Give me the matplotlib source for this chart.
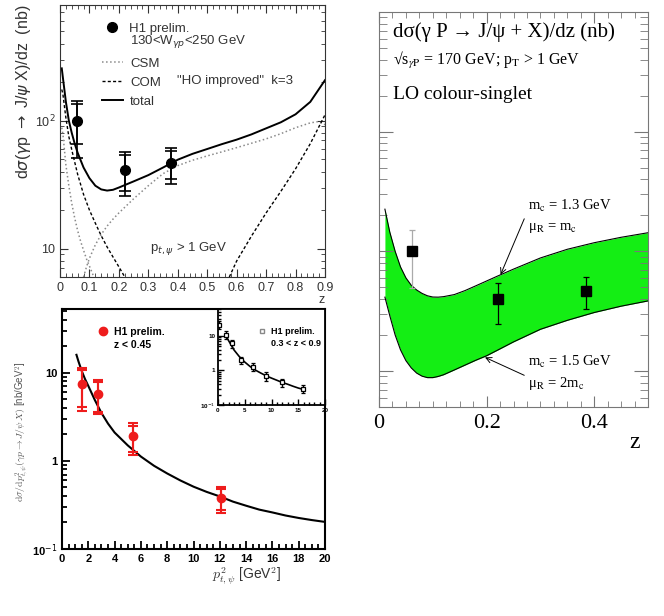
import matplotlib
matplotlib.use("Agg")
import matplotlib.pyplot as plt
import numpy as np
from matplotlib.lines import Line2D
from matplotlib.font_manager import FontProperties
from matplotlib.ticker import (MultipleLocator, LogLocator, NullFormatter,
                               FixedLocator, FixedFormatter, FormatStrFormatter)

# ---------------- top left: dsigma/dz, CSM + COM ----------------
z_h1 = [0.057, 0.222, 0.376]
sig_h1 = [100.0, 41.3, 46.6]
stat_lo = [66.0, 28.0, 35.0]
stat_hi = [136.0, 54.1, 57.4]
tot_lo = [51.0, 25.9, 32.1]
tot_hi = [141.0, 56.4, 61.0]

z_total = [0.006, 0.01, 0.02, 0.03, 0.04, 0.05, 0.06, 0.08, 0.10, 0.12, 0.14,
           0.16, 0.18, 0.20, 0.25, 0.30, 0.35, 0.40, 0.45, 0.50, 0.55, 0.60,
           0.65, 0.70, 0.75, 0.80, 0.85, 0.90]
total = [256, 215, 140, 100, 80, 66, 56, 43, 35.5, 31, 29, 28.4, 28.8, 30,
         33.5, 37.5, 43, 49.5, 55, 60, 65.5, 71, 78, 87, 97, 112, 140, 207]

z_csm_res = [0.006, 0.01, 0.02, 0.03, 0.04, 0.05, 0.06, 0.07, 0.08, 0.09,
             0.10, 0.11, 0.115]
csm_res = [88, 78, 45, 31, 22.5, 17.3, 13.8, 11.4, 9.7, 8.3, 7.3, 6.4, 6.0]

z_csm_dir = [0.08, 0.09, 0.10, 0.12, 0.14, 0.16, 0.18, 0.20, 0.25, 0.30, 0.35,
             0.40, 0.45, 0.50, 0.55, 0.60, 0.65, 0.70, 0.75, 0.80, 0.85,
             0.875, 0.90]
csm_dir = [6.0, 7.2, 8.4, 10.7, 12.9, 15.0, 17.0, 19.0, 24.5, 31, 38.5, 44.5,
           49, 53, 57, 61.5, 66.5, 72, 79, 88, 96, 98, 93]

z_com_res = [0.006, 0.01, 0.02, 0.03, 0.04, 0.06, 0.08, 0.10, 0.12, 0.14,
             0.16, 0.18, 0.20, 0.22]
com_res = [175, 160, 105, 75, 59, 38, 26.5, 20, 15.8, 12.6, 10.3, 8.6, 7.2, 6.0]

z_com_dir = [0.575, 0.60, 0.65, 0.70, 0.75, 0.80, 0.85, 0.90]
com_dir = [6.0, 8.0, 12.5, 19, 28, 42, 66, 111]

# ---------------- bottom left: dsigma/dpt2 ----------------
pt2_h1 = [1.5, 2.7, 5.4, 12.1]
dpt_h1 = [7.4, 5.8, 1.92, 0.384]
dpt_stat_lo = [4.05, 3.6, 1.26, 0.28]
dpt_stat_hi = [10.7, 7.9, 2.5, 0.476]
dpt_tot_lo = [3.7, 3.4, 1.18, 0.256]
dpt_tot_hi = [11.2, 8.3, 2.66, 0.507]

pt2_curve = [1.1, 1.25, 1.5, 1.75, 2.0, 2.5, 3.0, 3.5, 4, 5, 6, 7, 8, 9, 10,
             11, 12, 13, 14, 15, 16, 17, 18, 19, 20]
dpt_curve = [16, 13.5, 10.5, 8.5, 7.1, 4.9, 3.5, 2.65, 2.1, 1.5, 1.12, 0.88,
             0.72, 0.6, 0.51, 0.445, 0.395, 0.345, 0.31, 0.28, 0.26, 0.24,
             0.225, 0.213, 0.203]

# inset, 0.3 < z < 0.9
pt2_in = [0.25, 1.44, 2.68, 4.3, 6.6, 8.9, 12.0, 15.9]
dpt_in = [21, 10.7, 6.1, 2.0, 1.26, 0.67, 0.45, 0.29]
dpt_in_lo = [16, 8.0, 4.6, 1.5, 0.95, 0.5, 0.33, 0.22]
dpt_in_hi = [27, 13.5, 7.8, 2.5, 1.6, 0.88, 0.58, 0.37]
pt2_in_curve = [1.5, 2, 3, 4, 5, 6, 7, 8, 9, 10, 11, 12, 13, 14, 15, 16]
dpt_in_curve = [10, 7.2, 3.9, 2.5, 1.75, 1.3, 1.02, 0.84, 0.7, 0.6, 0.52,
                0.45, 0.4, 0.35, 0.31, 0.28]

# ---------------- right: LO colour-singlet band ----------------
z_band = [0.011, 0.02, 0.03, 0.04, 0.05, 0.06, 0.07, 0.08, 0.09, 0.10, 0.11,
          0.12, 0.14, 0.16, 0.18, 0.20, 0.22, 0.25, 0.30, 0.35, 0.40, 0.45, 0.50]
band_hi = [225, 145, 100, 74, 60, 52, 47.5, 44.5, 42.5, 41.5, 41.4, 41.8,
           43.5, 47, 51.5, 56.5, 62, 71, 88, 104, 118, 131, 143]
band_lo = [41.4, 29, 20, 15, 12.2, 10.6, 9.6, 9.05, 8.8, 8.8, 9.0, 9.3, 10.2,
           11.2, 12.3, 13.4, 14.9, 17.5, 22.3, 26.5, 30.8, 34.8, 38.5]

z_r = [0.061, 0.222, 0.384]
sig_r = [100, 40, 47]
sig_r_lo = [49, 24.8, 33]
sig_r_hi = [151, 54.6, 60.7]
err_col = ['#aaaaaa', 'k', 'k']

W, H = 664, 616
plt.rcParams['xtick.direction'] = 'in'
plt.rcParams['ytick.direction'] = 'in'
fig = plt.figure(figsize=(W / 100, H / 100), dpi=100)


def rect(l, t, r, b):
    return [l / W, 1 - b / H, (r - l) / W, (b - t) / H]


# ===== top left =====
ax1 = fig.add_axes(rect(60, 5, 325, 277))
ax1.set_yscale('log')
ax1.plot(z_csm_res, csm_res, color='#8a8a8a', ls=':', lw=1.1)
ax1.plot(z_csm_dir, csm_dir, color='#8a8a8a', ls=':', lw=1.1)
ax1.plot(z_com_res, com_res, color='k', ls=(0, (2.2, 1.6)), lw=1.0)
ax1.plot(z_com_dir, com_dir, color='k', ls=(0, (2.2, 1.6)), lw=1.0)
ax1.plot(z_total, total, color='k', lw=1.4)
s = np.array(sig_h1)
ax1.errorbar(z_h1, sig_h1, yerr=[s - np.array(tot_lo), np.array(tot_hi) - s],
             fmt='none', ecolor='k', elinewidth=1.2, capsize=4.5, capthick=1.2)
ax1.errorbar(z_h1, sig_h1, yerr=[s - np.array(stat_lo), np.array(stat_hi) - s],
             fmt='o', color='k', ms=7, elinewidth=1.2, capsize=4.5, capthick=1.2)
ax1.set_xlim(0, 0.9)
ax1.set_ylim(6, 800)
ax1.xaxis.set_major_locator(MultipleLocator(0.1))
ax1.xaxis.set_minor_locator(MultipleLocator(0.02))
ax1.xaxis.set_major_formatter(FormatStrFormatter('%g'))
ax1.yaxis.set_major_locator(FixedLocator([10, 100]))
ax1.yaxis.set_major_formatter(FixedFormatter(['10', '10$^2$']))
ax1.yaxis.set_minor_locator(LogLocator(subs=np.arange(2, 10)))
ax1.yaxis.set_minor_formatter(NullFormatter())
ax1.tick_params(which='both', top=True, right=True, colors='#333333',
                labelsize=9)
ax1.tick_params(which='major', length=6)
ax1.tick_params(which='minor', length=3)
for lab in ax1.get_xticklabels() + ax1.get_yticklabels():
    lab.set_family('Liberation Sans')
for sp in ax1.spines.values():
    sp.set_color('#333333')
ax1.set_ylabel(r'd$\sigma$($\gamma$p $\rightarrow$ J/$\psi$ X)/dz  (nb)',
               loc='top', fontsize=11.5, family='Liberation Sans',
               color='#333333', labelpad=1)
fp1 = FontProperties(family='Liberation Sans', size=9.5)
leg_a = ax1.legend([Line2D([], [], marker='o', color='k', ls='none', ms=7)],
                   ['H1 prelim.'], loc='upper left',
                   bbox_to_anchor=(0.115, 0.979), frameon=False, prop=fp1,
                   handlelength=1.5, handletextpad=0.5, borderpad=0.4)
for t in leg_a.get_texts():
    t.set_color('#333333')
ax1.add_artist(leg_a)
ax1.text(0.264, 0.864, r'130<W$_{\gamma p}$<250 GeV', transform=ax1.transAxes,
         fontproperties=fp1, color='#333333', va='center')
hnd = [Line2D([], [], color='#8a8a8a', ls=':', lw=1.1),
       Line2D([], [], color='k', ls=(0, (2.2, 1.6)), lw=1.0),
       Line2D([], [], color='k', lw=1.4)]
leg_b = ax1.legend(hnd, ['CSM', 'COM', 'total'], loc='upper left',
                   bbox_to_anchor=(0.115, 0.85), frameon=False, prop=fp1,
                   handlelength=1.6, handletextpad=0.5, labelspacing=0.5,
                   borderpad=0.4)
for t in leg_b.get_texts():
    t.set_color('#333333')
ax1.text(0.44, 0.722, '"HO improved"  k=3', transform=ax1.transAxes,
         fontproperties=fp1, color='#333333', va='center')
ax1.text(0.34, 0.103, r'p$_{t,\psi}$ > 1 GeV', transform=ax1.transAxes,
         fontproperties=fp1, color='#333333', va='center')
fig.text(322 / W, 1 - 300 / H, 'z', fontsize=9, family='Liberation Sans',
         color='#333333', ha='center', va='center')

# ===== bottom left =====
ax2 = fig.add_axes(rect(62, 309, 325, 549))
ax2.set_yscale('log')
ax2.plot(pt2_curve, dpt_curve, color='k', lw=1.5)
d = np.array(dpt_h1)
red = '#ee1c1c'
ax2.errorbar(pt2_h1, dpt_h1, yerr=[d - np.array(dpt_tot_lo), np.array(dpt_tot_hi) - d],
             fmt='none', ecolor=red, elinewidth=1.5, capsize=3.3, capthick=1.5)
ax2.errorbar(pt2_h1, dpt_h1, yerr=[d - np.array(dpt_stat_lo), np.array(dpt_stat_hi) - d],
             fmt='o', color=red, ms=6, elinewidth=1.5, capsize=3.3, capthick=1.5)
ax2.set_xlim(0, 20)
ax2.set_ylim(0.1, 53)
ax2.xaxis.set_major_locator(MultipleLocator(2))
ax2.xaxis.set_minor_locator(MultipleLocator(0.5))
ax2.yaxis.set_major_locator(FixedLocator([0.1, 1, 10]))
ax2.yaxis.set_major_formatter(FixedFormatter(['10$^{-1}$', '1', '10']))
ax2.yaxis.set_minor_locator(LogLocator(subs=np.arange(2, 10)))
ax2.yaxis.set_minor_formatter(NullFormatter())
ax2.tick_params(which='both', width=1.3, labelsize=8)
ax2.tick_params(which='major', length=6)
ax2.tick_params(which='minor', length=3.5)
for lab in ax2.get_xticklabels() + ax2.get_yticklabels():
    lab.set_family('Liberation Sans')
    lab.set_weight('bold')
for sp in ax2.spines.values():
    sp.set_linewidth(1.5)
fp2 = FontProperties(family='Liberation Sans', size=7.5, weight='bold')
ax2.legend([Line2D([], [], marker='o', color=red, ls='none', ms=6),
            Line2D([], [], ls='none')],
           ['H1 prelim.', 'z < 0.45'], loc='upper left',
           bbox_to_anchor=(0.1, 0.965), frameon=False, prop=fp2,
           handlelength=1.0, handletextpad=0.6, labelspacing=0.3)
fig.text(22 / W, 1 - 432 / H,
         r'$\mathrm{d}\sigma/\mathrm{d}p^2_{t,\psi}(\gamma p\rightarrow J/\psi\, X)$ [nb/GeV$^2$]',
         rotation=90, ha='center', va='center', color='#555555',
         fontproperties=FontProperties(family='Liberation Sans', size=7,
                                       math_fontfamily='cm'))
fig.text(212 / W, 1 - 576 / H, r'$p^2_{t,\psi}$ [GeV$^2$]', ha='left',
         va='center', color='#333333',
         fontproperties=FontProperties(family='Liberation Sans', size=10,
                                       math_fontfamily='cm'))

# inset
ax3 = fig.add_axes(rect(218, 309, 325, 405))
ax3.set_yscale('log')
ax3.plot(pt2_in_curve, dpt_in_curve, color='k', lw=1.2)
di = np.array(dpt_in)
ax3.errorbar(pt2_in, dpt_in, yerr=[di - np.array(dpt_in_lo), np.array(dpt_in_hi) - di],
             fmt='s', mfc='white', mec='k', color='k', ms=3.5, mew=0.9,
             elinewidth=1.0, capsize=1.5, capthick=1.0)
ax3.set_xlim(0, 20)
ax3.set_ylim(0.1, 60)
ax3.xaxis.set_major_locator(MultipleLocator(5))
ax3.xaxis.set_minor_locator(MultipleLocator(1))
ax3.yaxis.set_major_locator(FixedLocator([0.1, 1, 10]))
ax3.yaxis.set_major_formatter(FixedFormatter(['10$^{-1}$', '1', '10']))
ax3.yaxis.set_minor_locator(LogLocator(subs=np.arange(2, 10)))
ax3.yaxis.set_minor_formatter(NullFormatter())
ax3.tick_params(which='both', width=1.0, labelsize=4.5, pad=2)
ax3.tick_params(which='major', length=4)
ax3.tick_params(which='minor', length=2)
for lab in ax3.get_xticklabels() + ax3.get_yticklabels():
    lab.set_family('Liberation Sans')
    lab.set_weight('bold')
for sp in ax3.spines.values():
    sp.set_linewidth(1.3)
fp3 = FontProperties(family='Liberation Sans', size=6.5, weight='bold')
ax3.legend([Line2D([], [], marker='s', mfc='white', mec='#888888', ls='none', ms=3),
            Line2D([], [], ls='none')],
           ['H1 prelim.', '0.3 < z < 0.9'], loc='upper left',
           bbox_to_anchor=(0.3, 0.9), frameon=False, prop=fp3,
           handlelength=0.8, handletextpad=0.6, labelspacing=0.35)

# ===== right =====
ax4 = fig.add_axes(rect(379, 12, 648, 407))
ax4.set_yscale('log')
ax4.fill_between(z_band, band_lo, band_hi, color='#14ee14', lw=0)
ax4.plot(z_band, band_hi, color='k', lw=0.8)
ax4.plot(z_band, band_lo, color='k', lw=0.8)
for zz, yy, lo, hi, c in zip(z_r, sig_r, sig_r_lo, sig_r_hi, err_col):
    ax4.errorbar([zz], [yy], yerr=[[yy - lo], [hi - yy]], fmt='none',
                 ecolor=c, elinewidth=0.9, capsize=2.5, capthick=0.9)
ax4.plot(z_r, sig_r, 's', color='k', ms=6.5)
ax4.set_xlim(0, 0.5)
ax4.set_ylim(5, 10000)
ax4.xaxis.set_major_locator(MultipleLocator(0.2))
ax4.xaxis.set_minor_locator(MultipleLocator(0.025))
ax4.xaxis.set_major_formatter(FormatStrFormatter('%g'))
ax4.yaxis.set_major_locator(FixedLocator([10, 100, 1000]))
ax4.yaxis.set_minor_locator(LogLocator(subs=np.arange(2, 10)))
ax4.yaxis.set_major_formatter(NullFormatter())
ax4.yaxis.set_minor_formatter(NullFormatter())
ax4.tick_params(which='both', top=True, right=True, colors='#777777',
                labelcolor='k', labelsize=16, pad=5)
ax4.tick_params(axis='y', which='major', length=10)
ax4.tick_params(axis='y', which='minor', length=6)
ax4.tick_params(axis='x', which='major', length=8)
ax4.tick_params(axis='x', which='minor', length=4.5)
for lab in ax4.get_xticklabels():
    lab.set_family('Liberation Serif')
for sp in ax4.spines.values():
    sp.set_color('#777777')

serif = ['Liberation Serif', 'DejaVu Serif']
ax4.text(0.052, 0.949, 'dσ(γ P → J/ψ + X)/dz (nb)', transform=ax4.transAxes,
         family=serif, fontsize=15, va='center')
ax4.text(0.052, 0.878, r'√s$_{\gamma\mathrm{P}}$ = 170 GeV; p$_\mathrm{T}$ > 1 GeV',
         transform=ax4.transAxes, va='center',
         fontproperties=FontProperties(family=serif, size=11.5,
                                       math_fontfamily='stix'))
ax4.text(0.052, 0.792, 'LO colour-singlet', transform=ax4.transAxes,
         family=serif, fontsize=14, va='center')
fpm = FontProperties(family=serif, size=10.5, math_fontfamily='stix')
ax4.text(0.277, 240, r'm$_\mathrm{c}$ = 1.3 GeV', fontproperties=fpm, va='center')
ax4.text(0.277, 158, r'μ$_\mathrm{R}$ = m$_\mathrm{c}$', fontproperties=fpm, va='center')
ax4.text(0.277, 11.9, r'm$_\mathrm{c}$ = 1.5 GeV', fontproperties=fpm, va='center')
ax4.text(0.277, 7.85, r'μ$_\mathrm{R}$ = 2m$_\mathrm{c}$', fontproperties=fpm, va='center')
ax4.annotate('', xy=(z_band[16] + 0.006, band_hi[16] * 1.03), xytext=(0.27, 187),
             arrowprops=dict(arrowstyle='->', color='k', lw=0.7,
                             shrinkA=0, shrinkB=0))
ax4.annotate('', xy=(z_band[15] - 0.003, band_lo[15] * 0.97), xytext=(0.27, 9.2),
             arrowprops=dict(arrowstyle='->', color='k', lw=0.7,
                             shrinkA=0, shrinkB=0))
fig.text(635 / W, 1 - 442 / H, 'z', family=serif, fontsize=17,
         ha='center', va='center')

fig.savefig('out.png', dpi=100)
